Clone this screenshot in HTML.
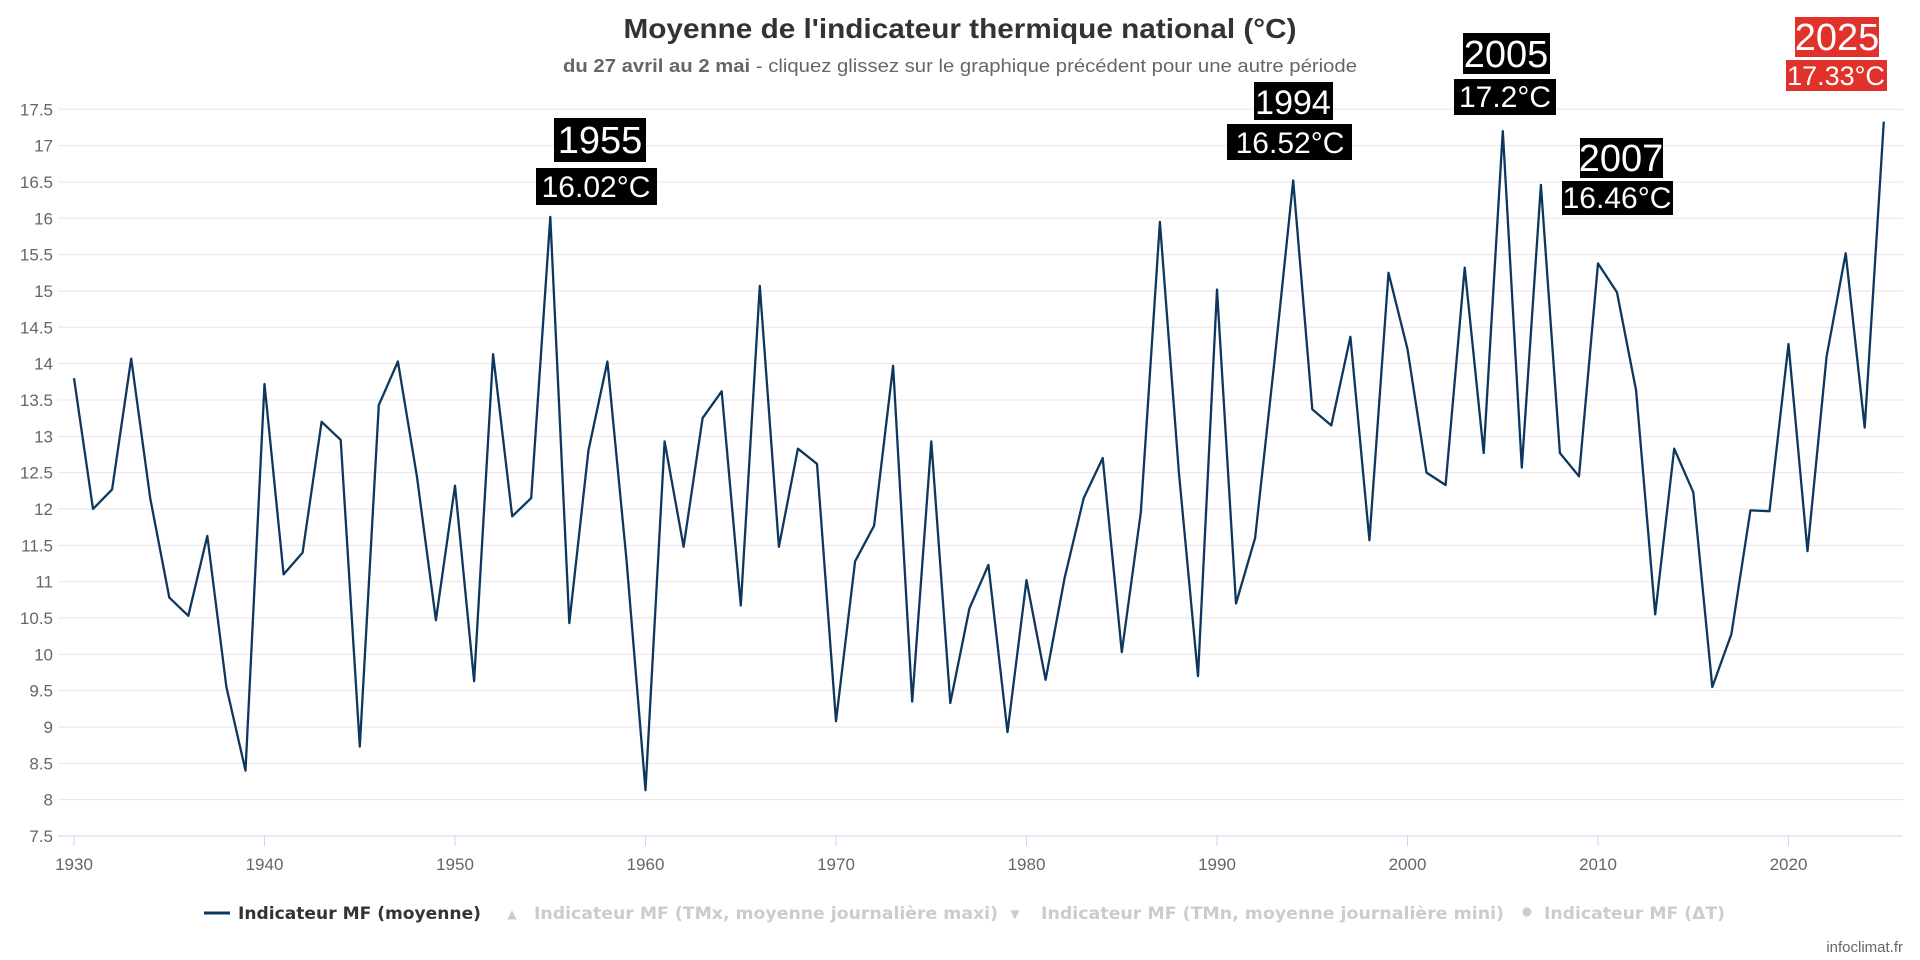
<!DOCTYPE html>
<html><head><meta charset="utf-8"><style>
html,body{margin:0;padding:0;background:#fff;}
svg{display:block;}
</style></head><body>
<svg id="c" width="1920" height="960" xmlns="http://www.w3.org/2000/svg" font-family="Liberation Sans, sans-serif">
<rect width="1920" height="960" fill="#fff"/>
<text x="960" y="38" text-anchor="middle" font-size="28" font-weight="bold" fill="#333" textLength="673" lengthAdjust="spacingAndGlyphs">Moyenne de l'indicateur thermique national (°C)</text>
<text x="960" y="72" text-anchor="middle" font-size="18" fill="#666" textLength="794" lengthAdjust="spacingAndGlyphs"><tspan font-weight="bold">du 27 avril au 2 mai</tspan> - cliquez glissez sur le graphique précédent pour une autre période</text>
<g id="grid"></g>
<g id="ylab" font-size="17" fill="#666" text-anchor="end"></g>
<g id="xlab" font-size="17" fill="#666" text-anchor="middle"></g>
<path id="line" fill="none" stroke="#0e3760" stroke-width="2.3" stroke-linejoin="round"/>
<g font-size="38" fill="#fff" text-anchor="middle">
<rect x="554" y="118" width="92" height="44" fill="#000"/><text x="600" y="153">1955</text>
<rect x="1254" y="82" width="79" height="38" fill="#000"/><text x="1293" y="114" font-size="34">1994</text>
<rect x="1463" y="33" width="87" height="41" fill="#000"/><text x="1506" y="67">2005</text>
<rect x="1580" y="138" width="83" height="40" fill="#000"/><text x="1621" y="171">2007</text>
<rect x="1795" y="17" width="84" height="40" fill="#e0312a"/><text x="1837" y="50">2025</text>
</g>
<g font-size="30" fill="#fff" text-anchor="middle">
<rect x="536" y="168" width="121" height="37" fill="#000"/><text x="596" y="197">16.02°C</text>
<rect x="1227" y="124" width="125" height="36" fill="#000"/><text x="1290" y="153">16.52°C</text>
<rect x="1454" y="79" width="102" height="36" fill="#000"/><text x="1505" y="107">17.2°C</text>
<rect x="1562" y="181" width="111" height="34" fill="#000"/><text x="1617" y="208">16.46°C</text>
<rect x="1786" y="60" width="101" height="31" fill="#e0312a"/><text x="1836" y="85" font-size="27">17.33°C</text>
</g>
<g font-family="DejaVu Sans, sans-serif" font-size="17" font-weight="bold">
<line x1="204" y1="913" x2="230" y2="913" stroke="#0e3760" stroke-width="3"/>
<text x="238" y="919" fill="#333" textLength="243" lengthAdjust="spacingAndGlyphs">Indicateur MF (moyenne)</text>
<text x="512" y="918" fill="#ccc" font-size="12" text-anchor="middle">▲</text>
<text x="534" y="919" fill="#ccc" textLength="464" lengthAdjust="spacingAndGlyphs">Indicateur MF (TMx, moyenne journalière maxi)</text>
<text x="1015" y="918" fill="#ccc" font-size="12" text-anchor="middle">▼</text>
<text x="1041" y="919" fill="#ccc" textLength="463" lengthAdjust="spacingAndGlyphs">Indicateur MF (TMn, moyenne journalière mini)</text>
<circle cx="1527" cy="912" r="4.5" fill="#ccc"/>
<text x="1544" y="919" fill="#ccc" textLength="181" lengthAdjust="spacingAndGlyphs">Indicateur MF (ΔT)</text>
</g>
<text x="1903" y="952" text-anchor="end" font-size="15" fill="#666">infoclimat.fr</text>
</svg>
<script>
var d=[13.8,12.0,12.27,14.07,12.15,10.78,10.53,11.63,9.55,8.4,13.72,11.1,11.4,13.2,12.95,8.73,13.43,14.03,12.45,10.47,12.32,9.63,14.13,11.9,12.15,16.02,10.43,12.8,14.03,11.3,8.13,12.93,11.48,13.25,13.62,10.67,15.07,11.48,12.83,12.62,9.08,11.28,11.77,13.97,9.35,12.93,9.33,10.63,11.23,8.93,11.02,9.65,11.05,12.15,12.7,10.03,11.95,15.95,12.5,9.7,15.02,10.7,11.6,14.0,16.52,13.37,13.15,14.37,11.57,15.25,14.2,12.5,12.33,15.32,12.77,17.2,12.57,16.46,12.77,12.45,15.38,14.98,13.63,10.55,12.83,12.23,9.55,10.28,11.98,11.97,14.27,11.42,14.1,15.52,13.12,17.33];
function X(y){return 74+(y-1930)*19.05;}
function Y(v){return 836-(v-7.5)*72.67;}
var ns="http://www.w3.org/2000/svg",g=document.getElementById('grid'),yl=document.getElementById('ylab'),xl=document.getElementById('xlab');
function el(p,t,a,txt){var e=document.createElementNS(ns,t);for(var k in a)e.setAttribute(k,a[k]);if(txt)e.textContent=txt;p.appendChild(e);}
for(var i=0;i<=20;i++){var v=7.5+i*0.5,y=Y(v);
el(g,'line',{x1:58,x2:1903,y1:y,y2:y,stroke:i==0?'#ccd6eb':'#e6e6e6','stroke-width':1});
el(yl,'text',{x:53,y:y+6},String(v));}
for(var yr=1930;yr<=2020;yr+=10){var x=X(yr);el(g,'line',{x1:x,x2:x,y1:836,y2:846,stroke:'#ccd6eb'});el(xl,'text',{x:x,y:870},String(yr));}
var p='';d.forEach(function(v,i){p+=(i?'L':'M')+X(1930+i).toFixed(1)+' '+Y(v).toFixed(1);});
document.getElementById('line').setAttribute('d',p);
</script>
</body></html>
